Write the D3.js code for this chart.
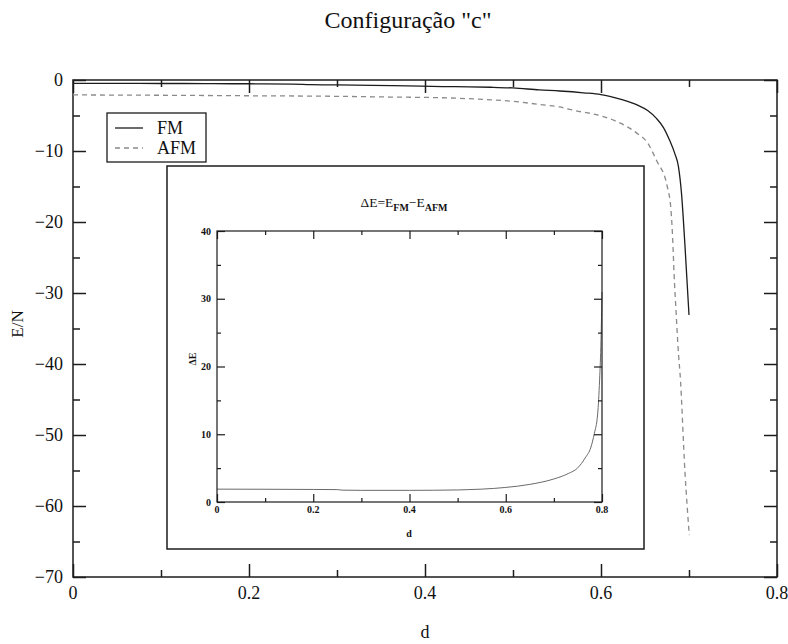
<!DOCTYPE html>
<html>
<head>
<meta charset="utf-8">
<script src="https://cdn.jsdelivr.net/npm/d3@7/dist/d3.min.js"></script>
<style>
  html, body { margin: 0; padding: 0; background: #fff; }
  svg { display: block; }
  text { font-family: "Liberation Serif", "Times New Roman", serif; fill: #111; }
</style>
</head>
<body>
<svg id="chart" width="788" height="644"></svg>
<script>
// Energy per site vs d, configuration "c"
const fmD   = [0, 0.05, 0.10, 0.15, 0.16, 0.20, 0.25, 0.27, 0.30, 0.34, 0.38, 0.42, 0.45, 0.475, 0.50, 0.53, 0.553, 0.58, 0.60, 0.61, 0.625, 0.641, 0.653, 0.663, 0.671, 0.678, 0.684, 0.688, 0.6915, 0.6955, 0.700];
const fmE   = [-0.47, -0.48, -0.49, -0.50, -0.52, -0.53, -0.58, -0.66, -0.70, -0.75, -0.84, -0.92, -0.97, -1.02, -1.12, -1.40, -1.55, -1.80, -2.05, -2.30, -2.80, -3.50, -4.30, -5.40, -6.70, -8.50, -10.4, -12.2, -16.0, -23.5, -33.1];
const afmD  = [0, 0.10, 0.20, 0.30, 0.36, 0.42, 0.475, 0.50, 0.53, 0.553, 0.57, 0.597, 0.615, 0.63, 0.642, 0.652, 0.663, 0.6753, 0.6795, 0.6815, 0.683, 0.6852, 0.6883, 0.6898, 0.6955, 0.7003];
const afmE  = [-2.10, -2.15, -2.22, -2.30, -2.40, -2.50, -2.80, -3.00, -3.45, -3.80, -4.30, -4.95, -5.70, -6.60, -7.60, -8.70, -11.3, -15.0, -18.3, -22.5, -27.2, -32.4, -39.0, -41.3, -55.4, -64.1];

// Inset: energy difference ΔE = E_FM − E_AFM
const dEd   = [0, 0.10, 0.20, 0.25, 0.26, 0.30, 0.40, 0.50, 0.52, 0.55, 0.60, 0.65, 0.70, 0.73, 0.749, 0.765, 0.777, 0.784, 0.791, 0.795, 0.798, 0.800];
const dEv   = [1.90, 1.88, 1.85, 1.83, 1.75, 1.72, 1.72, 1.78, 1.82, 1.90, 2.15, 2.60, 3.40, 4.20, 5.00, 6.50, 8.10, 10.1, 13.0, 18.0, 24.0, 31.0];

// Ticks
const xMajor = [0, 0.2, 0.4, 0.6, 0.8];
const xMajorLabels = ["0", "0.2", "0.4", "0.6", "0.8"];
const xMinor = [0.1, 0.3, 0.5, 0.7];
const yMajor = [0, -10, -20, -30, -40, -50, -60, -70];
const yMajorLabels = ["0", "\u221210", "\u221220", "\u221230", "\u221240", "\u221250", "\u221260", "\u221270"];
const yMinor = [-5, -15, -25, -35, -45, -55, -65];
const inYMajor = [0, 10, 20, 30, 40];
const inYMajorLabels = ["0", "10", "20", "30", "40"];
const inYMinor = [5, 15, 25, 35];

const seriesNames = ["FM", "AFM"];
const titleText = "Configuração \"c\"";

const svg = d3.select("#chart");
const ink = "#1c1c1c";

// ---------- main plot ----------
const M = { l: 73, r: 777, t: 80, b: 577 };
const x = d3.scaleLinear().domain([0, 0.8]).range([M.l, M.r]);
const y = d3.scaleLinear().domain([-70, 0]).range([M.b, M.t]);

function styleAxis(g, sw) {
  g.select(".domain").remove();
  g.selectAll(".tick line").attr("stroke", ink).attr("stroke-width", sw);
}

function frameAxes(root, xs, ys, xMaj, xMin, yMaj, yMin, big, small, sw) {
  const [x0, x1] = xs.range();
  const [y0, y1] = ys.range();
  const specs = [
    [d3.axisBottom(xs), y0, 0, xMaj, xMin],
    [d3.axisTop(xs), y1, 0, xMaj, xMin],
    [d3.axisLeft(ys), x0, 1, yMaj, yMin],
    [d3.axisRight(ys), x1, 1, yMaj, yMin]
  ];
  specs.forEach(([ax, pos, vert, maj, min]) => {
    [[maj, big], [min, small]].forEach(([vals, len]) => {
      const g = root.append("g")
        .attr("transform", vert ? `translate(${pos},0)` : `translate(0,${pos})`)
        .call(ax.tickValues(vals).tickSizeInner(-len).tickSizeOuter(0).tickFormat(""));
      styleAxis(g, sw);
    });
  });
  root.append("rect")
    .attr("x", x0).attr("y", y1)
    .attr("width", x1 - x0).attr("height", y0 - y1)
    .attr("fill", "none").attr("stroke", ink).attr("stroke-width", sw);
}

frameAxes(svg, x, y, xMajor, xMinor, yMajor, yMinor, 13, 7, 1.5);

// tick labels
svg.append("g").selectAll("text").data(xMajor).join("text")
  .attr("x", d => x(d)).attr("y", 599)
  .attr("text-anchor", "middle").attr("font-size", 18)
  .text((d, i) => xMajorLabels[i]);
svg.append("g").selectAll("text").data(yMajor).join("text")
  .attr("x", 63).attr("y", d => y(d) + 6)
  .attr("text-anchor", "end").attr("font-size", 18)
  .text((d, i) => yMajorLabels[i]);

// axis titles and title
svg.append("text").attr("x", 425).attr("y", 638).attr("text-anchor", "middle")
  .attr("font-size", 18).text("d");
svg.append("text").attr("transform", "translate(23,324) rotate(-90)")
  .attr("text-anchor", "middle").attr("font-size", 17).text("E/N");
svg.append("text").attr("x", 408).attr("y", 28).attr("text-anchor", "middle")
  .attr("font-size", 24).text(titleText);

// curves
const line = d3.line().x(d => x(d[0])).y(d => y(d[1])).curve(d3.curveMonotoneX);
svg.append("path").datum(d3.zip(afmD, afmE)).attr("d", line)
  .attr("fill", "none").attr("stroke", "#8a8a8a").attr("stroke-width", 1.3)
  .attr("stroke-dasharray", "5,4");
svg.append("path").datum(d3.zip(fmD, fmE)).attr("d", line)
  .attr("fill", "none").attr("stroke", ink).attr("stroke-width", 1.3);

// legend
const lg = svg.append("g");
lg.append("rect").attr("x", 107).attr("y", 113).attr("width", 99).attr("height", 49)
  .attr("fill", "#fff").attr("stroke", ink).attr("stroke-width", 1.3);
const legendStyles = [
  { stroke: ink, dash: null, yy: 128 },
  { stroke: "#8a8a8a", dash: "5,4", yy: 148 }
];
seriesNames.forEach((name, i) => {
  const s = legendStyles[i];
  lg.append("line").attr("x1", 115).attr("x2", 143).attr("y1", s.yy).attr("y2", s.yy)
    .attr("stroke", s.stroke).attr("stroke-width", 1.3)
    .attr("stroke-dasharray", s.dash);
  lg.append("text").attr("x", 157).attr("y", s.yy + 6).attr("font-size", 18).text(name);
});

// ---------- inset ----------
const inset = svg.append("g");
inset.append("rect").attr("x", 167).attr("y", 166).attr("width", 477).attr("height", 383)
  .attr("fill", "#fff").attr("stroke", ink).attr("stroke-width", 1.5);

const ix = d3.scaleLinear().domain([0, 0.8]).range([217, 602]);
const iy = d3.scaleLinear().domain([0, 40]).range([502, 231]);

inset.append("path").datum(d3.zip(dEd, dEv))
  .attr("d", d3.line().x(d => ix(d[0])).y(d => iy(d[1])).curve(d3.curveMonotoneX))
  .attr("fill", "none").attr("stroke", "#6a6a6a").attr("stroke-width", 1);

frameAxes(inset, ix, iy, xMajor, xMinor, inYMajor, inYMinor, 8, 4, 1.2);

inset.append("g").selectAll("text").data(xMajor).join("text")
  .attr("x", d => ix(d)).attr("y", 513)
  .attr("text-anchor", "middle").attr("font-size", 10).attr("font-weight", "bold")
  .text((d, i) => xMajorLabels[i]);
inset.append("g").selectAll("text").data(inYMajor).join("text")
  .attr("x", 211).attr("y", d => iy(d) + 3.5)
  .attr("text-anchor", "end").attr("font-size", 10).attr("font-weight", "bold")
  .text((d, i) => inYMajorLabels[i]);
inset.append("text").attr("x", 409).attr("y", 537).attr("text-anchor", "middle")
  .attr("font-size", 10).attr("font-weight", "bold").text("d");
inset.append("text").attr("transform", "translate(196,359) rotate(-90)")
  .attr("text-anchor", "middle").attr("font-size", 10).attr("font-weight", "bold").text("ΔE");

const it = inset.append("text").attr("x", 404).attr("y", 207)
  .attr("text-anchor", "middle").attr("font-size", 13.5);
it.append("tspan").text("ΔE=E");
it.append("tspan").attr("font-size", 10).attr("font-weight", "bold").attr("dy", 4).text("FM");
it.append("tspan").attr("dy", -4).text("\u2212E");
it.append("tspan").attr("font-size", 10).attr("font-weight", "bold").attr("dy", 4).text("AFM");
</script>
</body>
</html>
